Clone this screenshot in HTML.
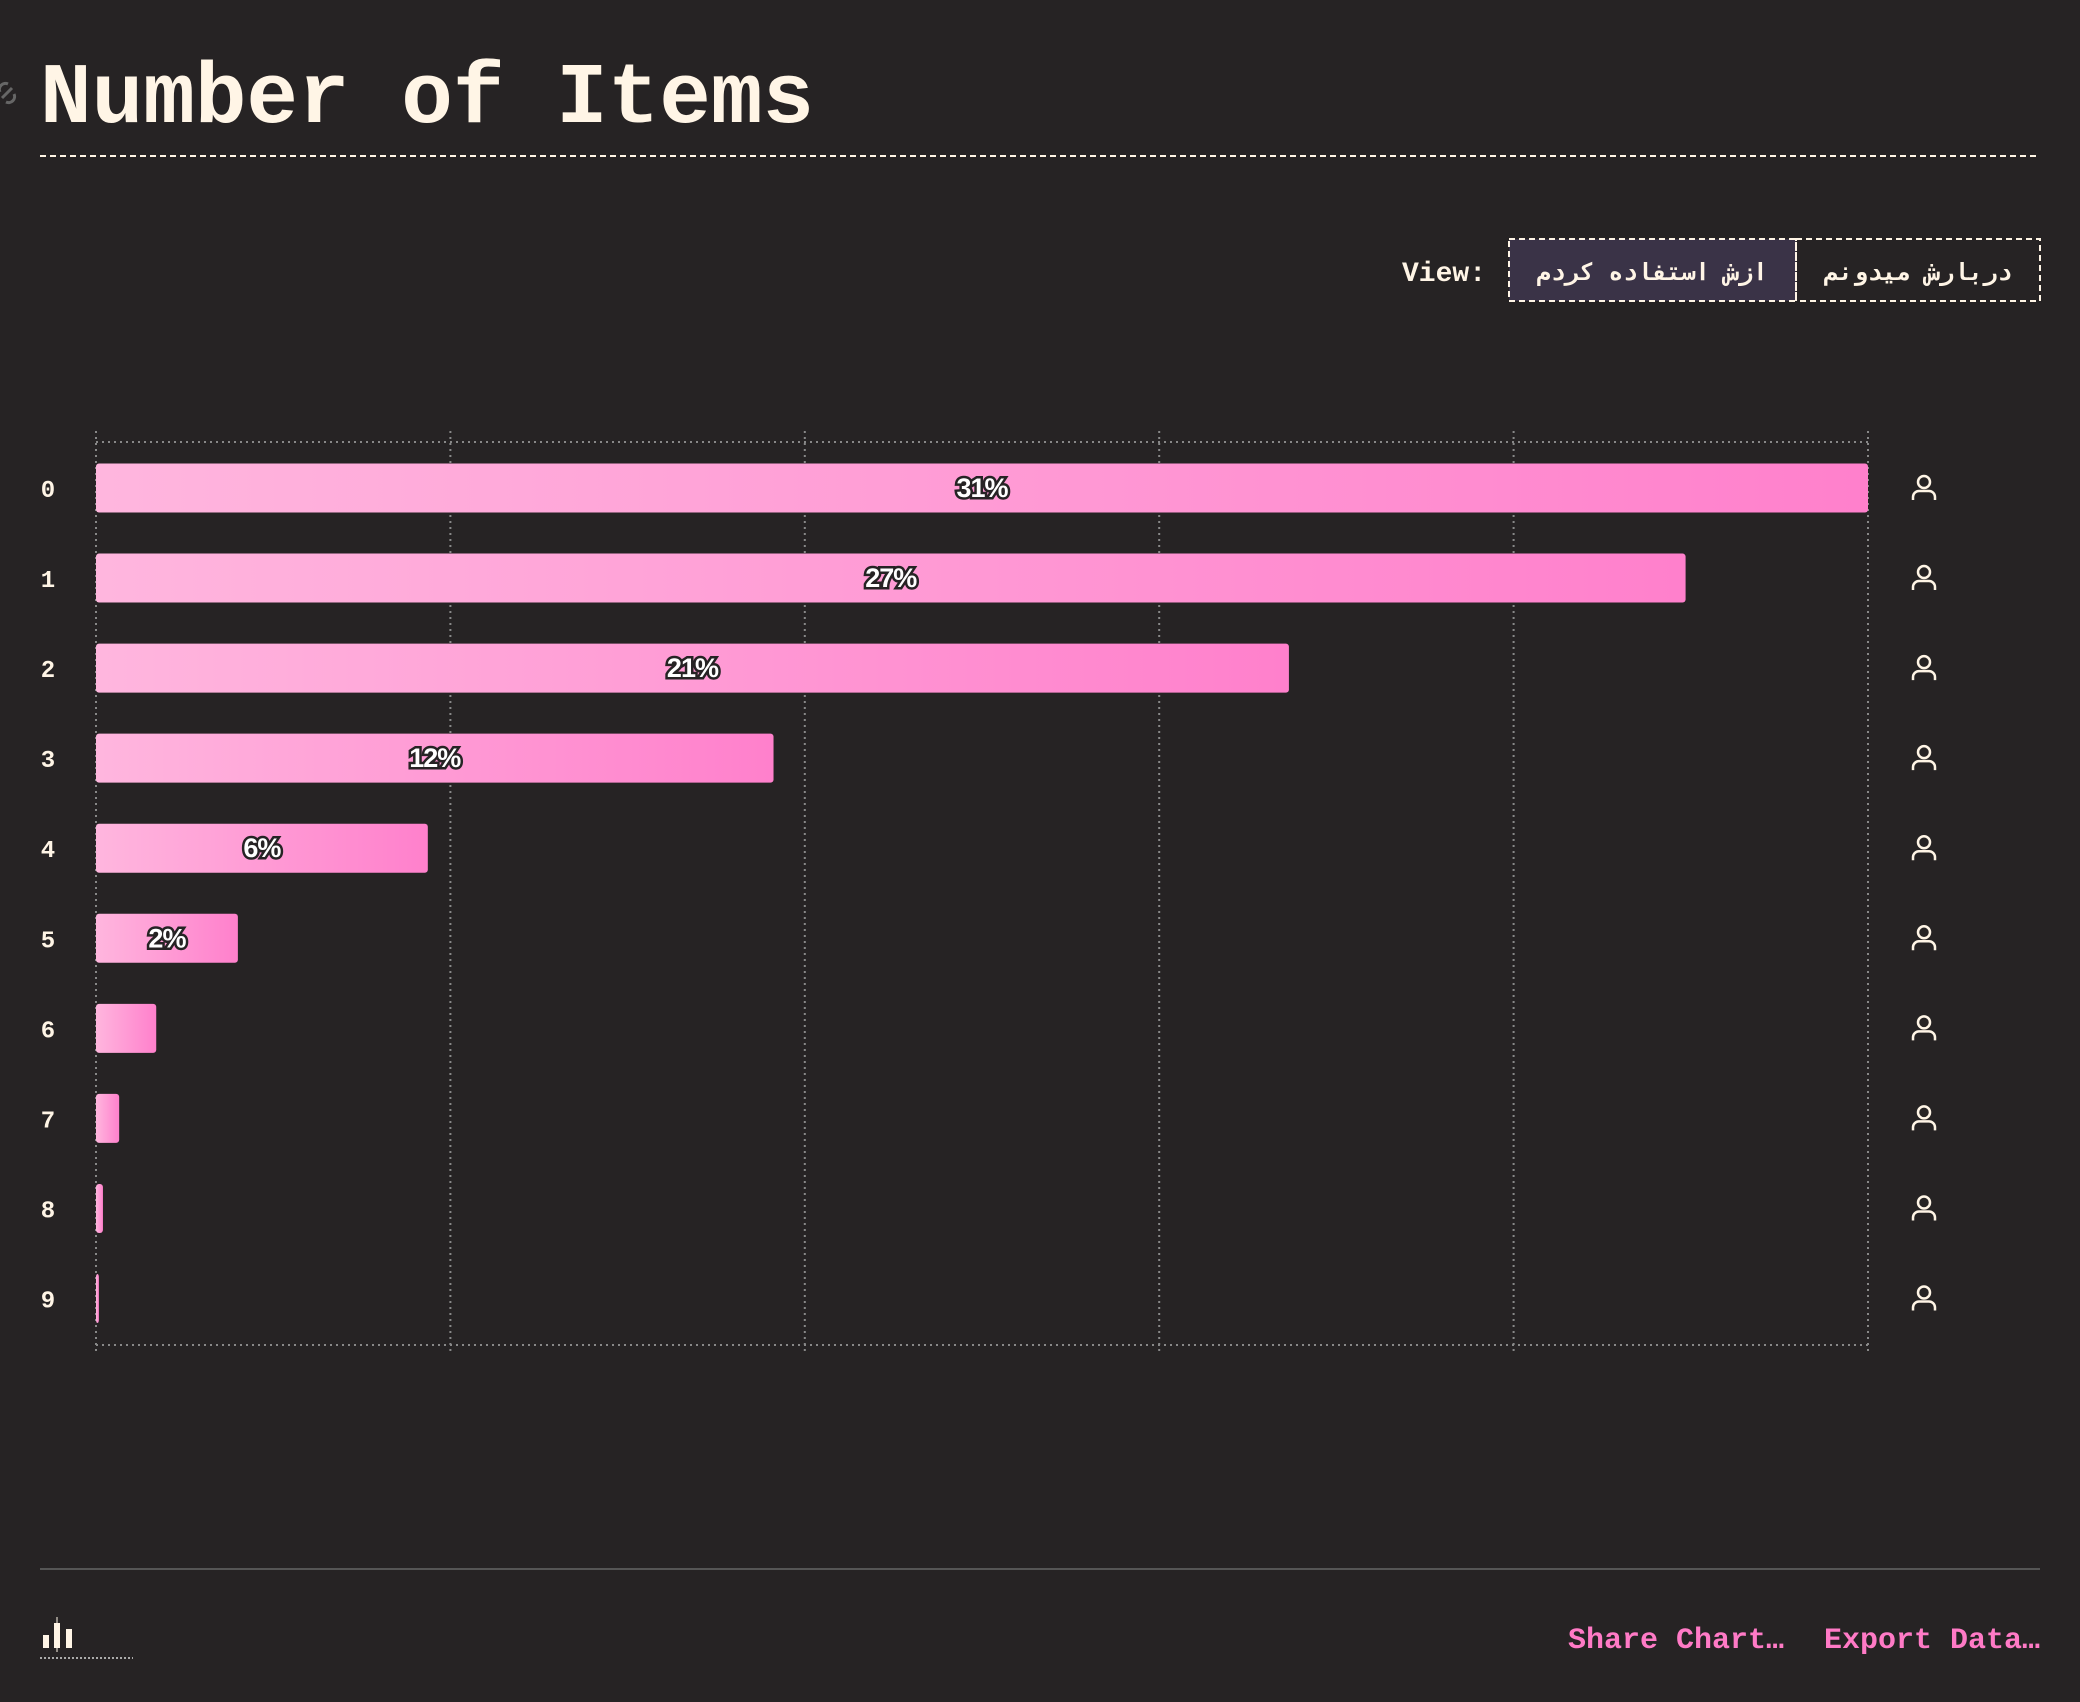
<!DOCTYPE html>
<html><head><meta charset="utf-8">
<style>
html,body{margin:0;padding:0;background:#262324;width:2080px;height:1702px;overflow:hidden}
body{font-family:"Liberation Mono","DejaVu Sans Mono",monospace;color:#fff5e6}
</style></head>
<body>
<svg id="chart" width="2080" height="1702" xmlns="http://www.w3.org/2000/svg" style="position:absolute;left:0;top:0">
<defs>
<linearGradient id="barGrad" x1="0" y1="0" x2="1" y2="0">
<stop offset="0" stop-color="#ffb6de"/><stop offset="1" stop-color="#ff80cc"/>
</linearGradient>
</defs>
<g stroke="#666" stroke-width="3" fill="none"><path d="M2 98 l10 -10 M0 92 a6 6 0 0 1 8 -8 M14 94 a6 6 0 0 1 -8 8"/></g>
<text x="40" y="122" font-family="Liberation Mono, monospace" font-weight="bold" font-size="86" fill="#fff5e6">Number of Items</text>
<line x1="40" y1="156" x2="2040" y2="156" stroke="#fff5e6" stroke-width="2" stroke-dasharray="6,4"/>
<text x="1402" y="281" font-family="Liberation Mono, monospace" font-weight="bold" font-size="28" fill="#fff5e6">View:</text>
<rect x="1509" y="239" width="287" height="62" fill="#3a3347" stroke="#fff5e6" stroke-width="2" stroke-dasharray="6,4"/>
<rect x="1796" y="239" width="244" height="62" fill="none" stroke="#fff5e6" stroke-width="2" stroke-dasharray="6,4"/>
<text x="1652" y="280" text-anchor="middle" font-family="Liberation Mono, DejaVu Sans Mono, monospace" font-weight="bold" font-size="24" fill="#fff5e6">ازش استفاده کردم</text>
<text x="1918" y="280" text-anchor="middle" font-family="Liberation Mono, DejaVu Sans Mono, monospace" font-weight="bold" font-size="24" fill="#fff5e6">دربارش میدونم</text>
<g id="plot"></g>
<line x1="40" y1="1569" x2="2040" y2="1569" stroke="#555" stroke-width="2"/>
<g fill="#fff5e6">
<rect x="43" y="1635" width="6" height="13"/><rect x="54" y="1623" width="6" height="25"/><rect x="66" y="1629" width="6" height="19"/>
<line x1="57" y1="1617" x2="57" y2="1652" stroke="#fff5e6" stroke-width="1"/>
<line x1="40" y1="1658" x2="133" y2="1658" stroke="#aaa" stroke-width="2" stroke-dasharray="2,2"/>
</g>
<text x="1568" y="1648" font-family="Liberation Mono, monospace" font-weight="bold" font-size="30" fill="#ff7ac6">Share Chart…</text>
<text x="1824" y="1648" font-family="Liberation Mono, monospace" font-weight="bold" font-size="30" fill="#ff7ac6">Export Data…</text>
</svg>
<script>
const categories = ["0","1","2","3","4","5","6","7","8","9"];
const values = [30.6, 27.45, 20.6, 11.7, 5.73, 2.45, 1.04, 0.40, 0.12, 0.05];
const xMax = 30.6;
const gridTicks = [0, 0.2, 0.4, 0.6, 0.8, 1.0];

const NS = "http://www.w3.org/2000/svg";
const plot = document.getElementById('plot');
const X0 = 96, X1 = 1868, Y0 = 442, Y1 = 1345;
const rowTop = 488, rowStep = 90.06, barH = 49;
function x(v){ return X0 + v / xMax * (X1 - X0); }
function y(i){ return rowTop + i * rowStep; }
function mk(tag, attrs){ const e = document.createElementNS(NS, tag); for (const k in attrs) e.setAttribute(k, attrs[k]); plot.appendChild(e); return e; }

gridTicks.forEach((t) => {
  const gx = X0 + t * (X1 - X0);
  const g = mk('line', {x1: gx, y1: 431, x2: gx, y2: 1355, stroke: '#888', 'stroke-width': 2, 'stroke-dasharray': '2,4'});
  
  
});
[Y0, Y1].forEach((yy) => {
  const l = mk('line', {x1: X0, y1: yy, x2: X1, y2: yy, stroke: '#888', 'stroke-width': 2, 'stroke-dasharray': '2,4'});
  
  
});

categories.forEach((c, i) => {
  const cy = y(i);
  const lbl = mk('text', {x: 48, y: cy + 9, 'text-anchor': 'middle', 'font-family': 'Liberation Mono, monospace', 'font-weight': 'bold', 'font-size': 24, fill: '#fff5e6'});
  lbl.textContent = c;
  
  
  const w = Math.max(x(values[i]) - X0, 2);
  const bar = mk('rect', {x: X0, y: cy - barH / 2, width: w, height: barH, rx: 3, fill: 'url(#barGrad)'});
  
  
  if (values[i] >= 1.5) {
    const t = mk('text', {x: X0 + w / 2, y: cy + 9, 'text-anchor': 'middle', 'font-family': 'Liberation Sans, sans-serif', 'font-weight': 'bold', 'font-size': 27, fill: '#fff', stroke: '#262324', 'stroke-width': 5, 'paint-order': 'stroke', 'letter-spacing': '-1'});
    t.textContent = Math.round(values[i]) + '%';
    
    
  }
  const ic = mk('g', {fill: 'none', stroke: '#fff5e6', 'stroke-width': 2.5});
  
  
  const c1 = document.createElementNS(NS, 'circle');
  c1.setAttribute('cx', 1924); c1.setAttribute('cy', cy - 6); c1.setAttribute('r', 6);
  ic.appendChild(c1);
  const p = document.createElementNS(NS, 'path');
  p.setAttribute('d', `M1913 ${cy + 12} v-3 a6 6 0 0 1 6 -6 h10 a6 6 0 0 1 6 6 v3`);
  ic.appendChild(p);
});
</script>
</body></html>
